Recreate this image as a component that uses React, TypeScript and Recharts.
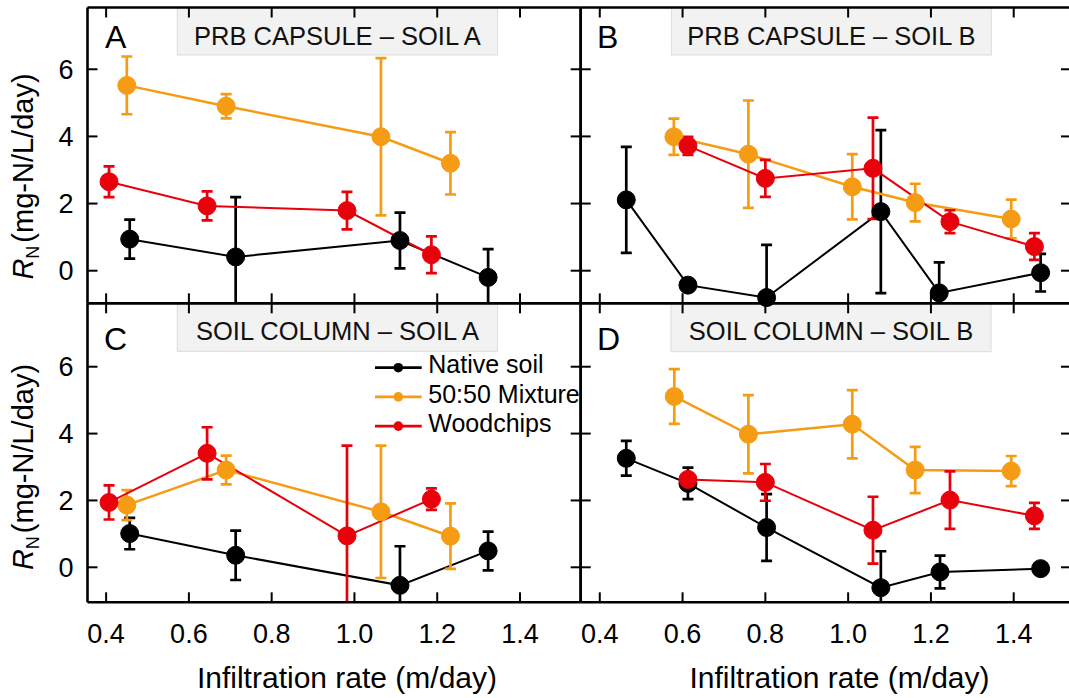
import React from 'react';
import { LineChart, Line, XAxis, YAxis, ErrorBar } from 'recharts';

const FONT = '"Liberation Sans", Arial, Helvetica, sans-serif';

// ---- data: each point is [infiltration rate (m/day), R_N (mg-N/L/day), error] ----
const aNative = [[0.457, 0.94, 0.58], [0.713, 0.41, 1.78], [1.11, 0.9, 0.83], [1.323, -0.2, 0.84]];
const aMixture = [[0.45, 5.52, 0.86], [0.69, 4.9, 0.36], [1.064, 3.99, 2.34], [1.232, 3.2, 0.93]];
const aWood = [[0.407, 2.65, 0.46], [0.644, 1.93, 0.43], [0.982, 1.79, 0.56], [1.186, 0.475, 0.55]];

const bNative = [[0.464, 2.11, 1.58], [0.613, -0.43, 0.1], [0.803, -0.8, 1.57], [1.079, 1.76, 2.43], [1.22, -0.66, 0.91], [1.465, -0.06, 0.56]];
const bMixture = [[0.579, 3.99, 0.54], [0.759, 3.47, 1.6], [1.01, 2.5, 0.97], [1.162, 2.03, 0.56], [1.394, 1.54, 0.58]];
const bWood = [[0.613, 3.72, 0.27], [0.8, 2.75, 0.55], [1.06, 3.05, 1.51], [1.246, 1.46, 0.34], [1.45, 0.72, 0.4]];

const cNative = [[0.457, 1.01, 0.47], [0.713, 0.36, 0.74], [1.11, -0.54, 1.17], [1.323, 0.49, 0.58]];
const cMixture = [[0.45, 1.86, 0.45], [0.69, 2.91, 0.43], [1.064, 1.66, 1.98], [1.232, 0.93, 0.98]];
const cWood = [[0.407, 1.94, 0.51], [0.644, 3.41, 0.78], [0.982, 0.94, 2.7], [1.186, 2.04, 0.32]];

const dNative = [[0.464, 3.26, 0.52], [0.613, 2.51, 0.47], [0.803, 1.19, 1.0], [1.079, -0.61, 1.09], [1.222, -0.14, 0.49], [1.465, -0.04, 0.05]];
const dMixture = [[0.58, 5.11, 0.82], [0.759, 3.98, 1.17], [1.01, 4.28, 1.02], [1.162, 2.91, 0.69], [1.394, 2.88, 0.45]];
const dWood = [[0.613, 2.63, 0.15], [0.8, 2.54, 0.55], [1.06, 1.11, 1.0], [1.246, 2.01, 0.86], [1.45, 1.54, 0.39]];

const xTicks = [0.4, 0.6, 0.8, 1.0, 1.2, 1.4];
const yTicks = [0, 2, 4, 6];

const seriesNames = ['Native soil', '50:50 Mixture', 'Woodchips'];
const seriesColors = ['#000000', '#f59c14', '#e8000b'];

const panelLetters = ['A', 'B', 'C', 'D'];
const panelTitles = ['PRB CAPSULE \u2013 SOIL A', 'PRB CAPSULE \u2013 SOIL B', 'SOIL COLUMN \u2013 SOIL A', 'SOIL COLUMN \u2013 SOIL B'];
const panelData = [
  [aNative, aMixture, aWood],
  [bNative, bMixture, bWood],
  [cNative, cMixture, cWood],
  [dNative, dMixture, dWood],
];

const xLabel = 'Infiltration rate (m/day)';

// ---- layout ----
const CW = 1080;
const CH = 698;
const colX = [[87.5, 580.7], [580.7, 1071]];
const rowY = [[7.5, 303.3], [303.3, 602.3]];
const colXDomain = [[0.355, 1.5467], [0.3539, 1.5384]];
const rowYDomain = [[-0.971, 7.84], [-1.047, 7.897]];

const hiddenTick = () => <g />;

function Panel({ idx }: { idx: number }) {
  const col = idx % 2;
  const row = Math.floor(idx / 2);
  const [x0, x1] = colX[col];
  const [y0, y1] = rowY[row];
  const margin = { left: x0 - 1, right: CW - x1 - 1, top: y0 - 1, bottom: CH - y1 - 1 };
  const showX = row === 1;
  const showY = col === 0;
  const tickStyle = { fontSize: 27, fill: '#000', fontFamily: FONT };
  const axisLine = { stroke: '#000', strokeWidth: 2.6 };
  const tickLine = { stroke: '#000', strokeWidth: 2 };
  return (
    <LineChart width={CW} height={CH} margin={margin}>
      <XAxis
        xAxisId="b"
        dataKey="x"
        type="number"
        orientation="bottom"
        height={1}
        domain={colXDomain[col]}
        allowDataOverflow
        ticks={xTicks}
        interval={0}
        tickFormatter={(v: number) => v.toFixed(1)}
        tickSize={-10}
        tickMargin={32}
        axisLine={axisLine}
        tickLine={tickLine}
        tick={showX ? tickStyle : hiddenTick}
      />
      <XAxis
        xAxisId="t"
        dataKey="x"
        type="number"
        orientation="top"
        height={1}
        domain={colXDomain[col]}
        allowDataOverflow
        ticks={xTicks}
        interval={0}
        tickSize={-10}
        axisLine={axisLine}
        tickLine={tickLine}
        tick={hiddenTick}
      />
      <YAxis
        yAxisId="l"
        type="number"
        orientation="left"
        width={1}
        domain={rowYDomain[row]}
        allowDataOverflow
        ticks={yTicks}
        interval={0}
        tickSize={-10}
        tickMargin={24}
        axisLine={axisLine}
        tickLine={tickLine}
        tick={showY ? tickStyle : hiddenTick}
      />
      <YAxis
        yAxisId="r"
        type="number"
        orientation="right"
        width={1}
        domain={rowYDomain[row]}
        allowDataOverflow
        ticks={yTicks}
        interval={0}
        tickSize={-10}
        axisLine={axisLine}
        tickLine={tickLine}
        tick={hiddenTick}
      />
      {panelData[idx].map((pts, si) => {
        const color = seriesColors[si];
        const data = pts.map(([x, y, e]) => ({ x, y, e }));
        return (
          <Line
            key={si}
            xAxisId="b"
            yAxisId="l"
            data={data}
            dataKey="y"
            name={seriesNames[si]}
            stroke={color}
            strokeWidth={si === 1 ? 2.5 : 2}
            dot={{ r: 9, fill: color, stroke: color, strokeWidth: 1, clipDot: false }}
            activeDot={false}
            isAnimationActive={false}
          >
            <ErrorBar dataKey="e" direction="y" width={5.5} strokeWidth={2.7} stroke={color} isAnimationActive={false} />
          </Line>
        );
      })}
    </LineChart>
  );
}

const boxes = [
  { x: 177.3, y: 7.5, w: 320.3, h: 47.5, ty: 45 },
  { x: 671.6, y: 7.5, w: 319.7, h: 47.5, ty: 45 },
  { x: 177.3, y: 303.3, w: 320.3, h: 48, ty: 340 },
  { x: 671, y: 303.3, w: 320, h: 48.4, ty: 340 },
];
const letterPos = [[105, 48.3], [597, 48.3], [104, 350], [597, 350]];
const yLabelCenters = [176.5, 467];
const xLabelCenters = [347, 839.5];

const clipCss = [0, 1, 2, 3]
  .map((i) => `.panel-${i} .recharts-errorBars, .panel-${i} .recharts-errorBar { clip-path: url(#ebclip-${i}); }`)
  .join('\n');

export default function App() {
  return (
    <div style={{ position: 'absolute', left: 0, top: 0, width: 1069, height: 698, overflow: 'hidden', background: '#fff' }}>
      <style>{`.recharts-surface{overflow:visible}\n${clipCss}`}</style>
      <svg style={{ position: 'absolute', left: 0, top: 0 }} width={1069} height={698}>
        <defs>
          {[0, 1, 2, 3].map((i) => {
            const [x0, x1] = colX[i % 2];
            const [y0, y1] = rowY[Math.floor(i / 2)];
            return (
              <clipPath key={i} id={`ebclip-${i}`} clipPathUnits="userSpaceOnUse">
                <rect x={x0} y={y0} width={x1 - x0} height={y1 - y0} />
              </clipPath>
            );
          })}
        </defs>
        {boxes.map((b, i) => (
          <g key={i}>
            <rect x={b.x} y={b.y} width={b.w} height={b.h} fill="#f2f2f2" stroke="#dcdcdc" strokeWidth={1} />
            <text x={b.x + b.w / 2} y={b.ty} textAnchor="middle" fontSize={25.5} fontFamily={FONT} fill="#111">
              {panelTitles[i]}
            </text>
          </g>
        ))}
      </svg>
      {[0, 1, 2, 3].map((i) => (
        <div key={i} className={`panel-${i}`} style={{ position: 'absolute', left: 0, top: 0 }}>
          <Panel idx={i} />
        </div>
      ))}
      <svg style={{ position: 'absolute', left: 0, top: 0, pointerEvents: 'none' }} width={1069} height={698}>
        {letterPos.map(([x, y], i) => (
          <text key={i} x={x} y={y} fontSize={32} fontFamily={FONT} fill="#000">
            {panelLetters[i]}
          </text>
        ))}
        {yLabelCenters.map((cy, i) => (
          <text key={i} transform={`translate(33, ${cy}) rotate(-90)`} textAnchor="middle" fontSize={29} fontFamily={FONT} fill="#000">
            <tspan fontStyle="italic">R</tspan>
            <tspan fontSize={18} dy={6}>N</tspan>
            <tspan dy={-6} dx={3}>(mg-N/L/day)</tspan>
          </text>
        ))}
        {xLabelCenters.map((cx, i) => (
          <text key={i} x={cx} y={688} textAnchor="middle" fontSize={30} fontFamily={FONT} fill="#000">
            {xLabel}
          </text>
        ))}
        {seriesNames.map((name, i) => {
          const y = 367.7 + i * 29.2;
          return (
            <g key={i}>
              <line x1={375} x2={421.7} y1={y} y2={y} stroke={seriesColors[i]} strokeWidth={2.7} />
              <circle cx={398.3} cy={y} r={4.8} fill={seriesColors[i]} />
              <text x={428.3} y={y + 5.6} fontSize={25} fontFamily={FONT} fill="#000">
                {name}
              </text>
            </g>
          );
        })}
      </svg>
    </div>
  );
}
